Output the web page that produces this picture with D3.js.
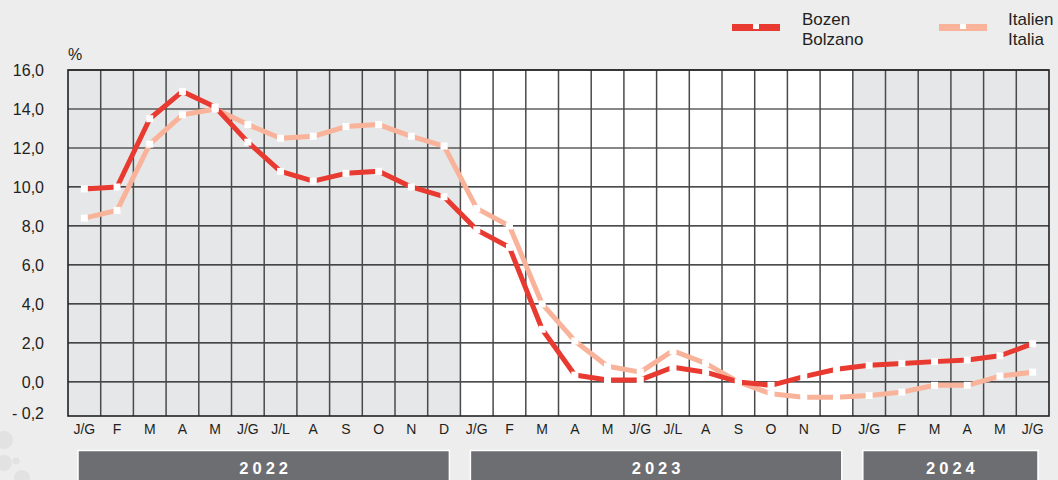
<!DOCTYPE html>
<html>
<head>
<meta charset="utf-8">
<script src="https://cdn.jsdelivr.net/npm/d3@7"></script>
<style>
  body { margin: 0; background: #ededed; }
  svg { display: block; font-family: "Liberation Sans", Arial, sans-serif; }
</style>
</head>
<body>
<svg id="chart" width="1058" height="480"></svg>
<script>
// month labels (Jan 2022 - Jun 2024)
var months = ["J/G", "F", "M", "A", "M", "J/G", "J/L", "A", "S", "O", "N", "D",
              "J/G", "F", "M", "A", "M", "J/G", "J/L", "A", "S", "O", "N", "D",
              "J/G", "F", "M", "A", "M", "J/G"];
var years = ["2022", "2023", "2024"];
var yearStart = [0, 12, 24];
var yearEnd = [12, 24, 30];

var bozen = [9.9, 10.0, 13.5, 14.9, 14.1, 12.3, 10.8, 10.3, 10.7, 10.8, 10.0, 9.5,
             7.8, 6.9, 2.7, 0.35, 0.1, 0.1, 0.75, 0.5, 0.0, -0.02, 0.27, 0.65,
             0.85, 0.95, 1.04, 1.12, 1.34, 1.96];
var italia = [8.4, 8.8, 12.2, 13.7, 14.0, 13.2, 12.5, 12.6, 13.1, 13.2, 12.6, 12.1,
              8.9, 8.0, 4.0, 2.1, 0.8, 0.5, 1.6, 0.95, 0.0, -0.07, -0.09, -0.09,
              -0.08, -0.06, -0.02, -0.02, 0.3, 0.5];

var yTicks = [-0.2, 0, 2, 4, 6, 8, 10, 12, 14, 16];
var seriesNames = [["Bozen", "Bolzano"], ["Italien", "Italia"]];
var seriesColors = ["#e83a30", "#f8b39a"];

var svg = d3.select("#chart");
var pLeft = 68, pRight = 1049, pTop = 70, pBottom = 416;

var x = d3.scaleBand().domain(d3.range(months.length)).range([pLeft, pRight]).padding(0);
// bottom segment of the axis is stretched (0 to -0,2)
var y = d3.scaleLinear().domain([-0.2, 0, 16]).range([pBottom, 381.9, pTop]);
var cx = function (i) { return x(i) + x.bandwidth() / 2; };

// decorative circles bottom left
[[4, 440, 9], [4, 463, 8], [16, 461, 3.5], [22, 478, 8]].forEach(function (c) {
  svg.append("circle").attr("cx", c[0]).attr("cy", c[1]).attr("r", c[2]).attr("fill", "#e2e2e2");
});

// year backgrounds
yearStart.forEach(function (s, k) {
  svg.append("rect")
    .attr("x", x(s)).attr("y", pTop)
    .attr("width", x.bandwidth() * (yearEnd[k] - s)).attr("height", pBottom - pTop)
    .attr("fill", k === 1 ? "#ffffff" : "#e6e7e9");
});

// horizontal grid
svg.append("g").selectAll("line").data(yTicks.filter(function (d) { return d >= 0; }))
  .enter().append("line")
  .attr("x1", pLeft).attr("x2", pRight)
  .attr("y1", function (d) { return y(d); }).attr("y2", function (d) { return y(d); })
  .attr("stroke", "#111").attr("stroke-width", 1.2);

// vertical grid
svg.append("g").selectAll("line").data(d3.range(1, months.length))
  .enter().append("line")
  .attr("x1", function (i) { return x(i); }).attr("x2", function (i) { return x(i); })
  .attr("y1", pTop).attr("y2", pBottom)
  .attr("stroke", "#4a4a4a").attr("stroke-width", 1.5);

svg.append("rect").attr("x", pLeft).attr("y", pTop)
  .attr("width", pRight - pLeft).attr("height", pBottom - pTop)
  .attr("fill", "none").attr("stroke", "#222").attr("stroke-width", 1.6);

// y axis labels
var yAxis = d3.axisLeft(y).tickValues(yTicks).tickSize(0).tickPadding(0)
  .tickFormat(function (d) { return d < 0 ? "- 0,2" : d3.format(".1f")(d).replace(".", ","); });
var ya = svg.append("g").attr("transform", "translate(44,0)").call(yAxis);
ya.select(".domain").remove();
ya.selectAll("text").attr("font-size", 16).attr("fill", "#231f20")
  .attr("font-family", "Liberation Sans, Arial, sans-serif");
ya.selectAll(".tick").filter(function (d) { return d < 0; }).select("text").attr("dy", "0.15em");

svg.append("text").attr("x", 68).attr("y", 60).attr("font-size", 16).attr("fill", "#231f20").text("%");

// x axis labels
var xAxis = d3.axisBottom(x).tickSize(0).tickPadding(0).tickFormat(function (i) { return months[i]; });
var xa = svg.append("g").attr("transform", "translate(0,424)").call(xAxis);
xa.select(".domain").remove();
xa.selectAll("text").attr("font-size", 14).attr("fill", "#231f20")
  .attr("font-family", "Liberation Sans, Arial, sans-serif");

// year bars
years.forEach(function (yr, k) {
  var x0 = x(yearStart[k]) + 10;
  var x1 = x(yearEnd[k] - 1) + x.bandwidth() - 11;
  svg.append("rect").attr("x", x0).attr("y", 450.5).attr("width", x1 - x0).attr("height", 40)
    .attr("fill", "#6d6e71").attr("stroke", "#ffffff").attr("stroke-width", 1.5);
  svg.append("text").attr("x", (x0 + x1) / 2 + 2).attr("y", 474)
    .attr("text-anchor", "middle").attr("font-size", 16.5).attr("font-weight", "bold")
    .attr("letter-spacing", "4px").attr("fill", "#ffffff").text(yr);
});

// series lines
var line = d3.line().x(function (d, i) { return cx(i); }).y(function (d) { return y(d); });
[italia, bozen].forEach(function (data, k) {
  var col = k === 0 ? seriesColors[1] : seriesColors[0];
  svg.append("path").datum(data).attr("d", line)
    .attr("fill", "none").attr("stroke", col).attr("stroke-width", 5)
    .attr("stroke-linejoin", "round");
});
[italia, bozen].forEach(function (data) {
  svg.append("g").selectAll("rect").data(data).enter().append("rect")
    .attr("x", function (d, i) { return cx(i) - 3.5; })
    .attr("y", function (d) { return y(d) - 3.5; })
    .attr("width", 7).attr("height", 7).attr("fill", "#ffffff");
});

// legend
var legX = [732, 939], txtX = [802, 1008];
seriesNames.forEach(function (nm, k) {
  svg.append("rect").attr("x", legX[k]).attr("y", 24).attr("width", 48).attr("height", 7)
    .attr("fill", seriesColors[k]);
  svg.append("rect").attr("x", legX[k] + 21).attr("y", 24).attr("width", 6).attr("height", 5)
    .attr("fill", "#ffffff");
  svg.append("text").attr("x", txtX[k]).attr("y", 25).attr("font-size", 17)
    .attr("fill", "#231f20").text(nm[0]);
  svg.append("text").attr("x", txtX[k]).attr("y", 45).attr("font-size", 17)
    .attr("fill", "#231f20").text(nm[1]);
});
</script>
</body>
</html>
